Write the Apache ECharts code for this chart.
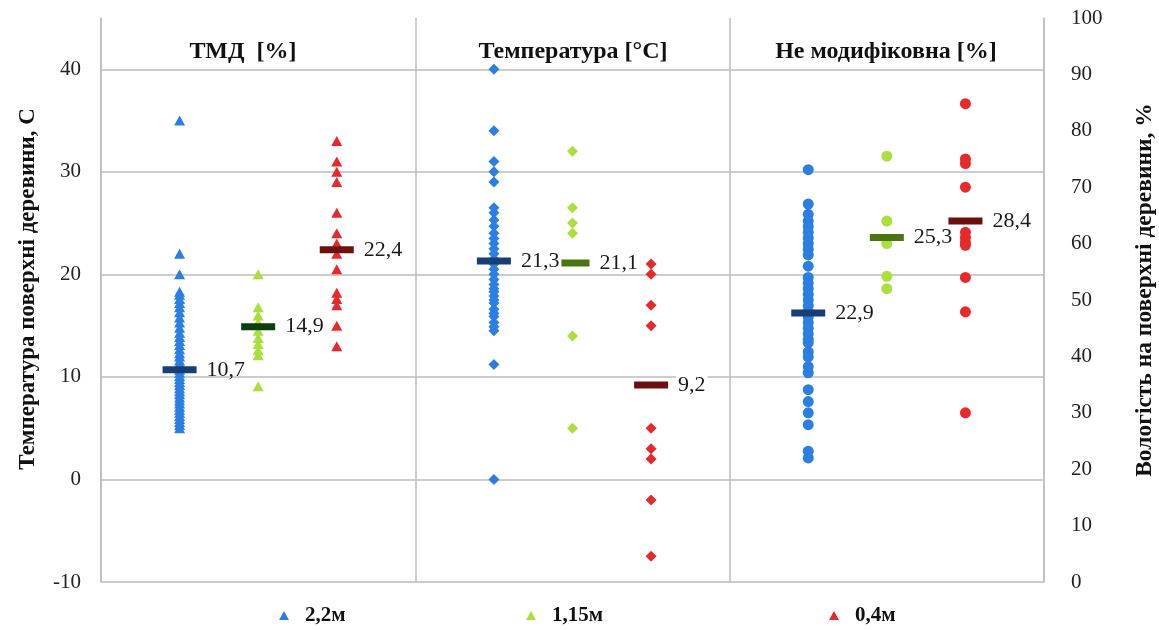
<!DOCTYPE html>
<html>
<head>
<meta charset="utf-8">
<script src="https://cdn.jsdelivr.net/npm/echarts@6/dist/echarts.min.js"></script>
<style>html,body{margin:0;padding:0;background:#fff}#c{width:1159px;height:630px}</style>
</head>
<body>
<div id="c"></div>
<script>
// ---- Data ----
const heights = ['2,2м', '1,15м', '0,4м'];
const panelTitles = ['ТМД  [%]', 'Температура [°C]', 'Не модифіковна [%]'];
const leftTicks = [-10, 0, 10, 20, 30, 40];
const rightTicks = [0, 10, 20, 30, 40, 50, 60, 70, 80, 90, 100];

// Panel 1: ТМД (left axis, temperature)
const tmdBlue = [35, 22, 20, 18.3, 18, 17.6, 17.2, 16.8, 16.3, 15.8, 15.3, 14.8, 14.3, 13.9, 13.5, 13.1, 12.7, 12.3, 12, 11.6, 11.3, 11, 10.7, 10.4, 10.1, 9.8, 9.5, 9.2, 8.9, 8.6, 8.3, 8, 7.7, 7.4, 7.1, 6.8, 6.5, 6.2, 5.9, 5.6, 5.3, 5];
const tmdGreen = [20, 16.8, 16, 15.3, 14.5, 13.8, 13.2, 12.6, 12.1, 9.1];
const tmdRed = [33, 31, 30, 29, 26, 24, 23, 22, 20.5, 18.2, 17.6, 17, 15, 13];

// Panel 2: Температура (left axis)
const tempBlue = [40, 34, 31, 30, 29, 26.5, 26, 25.3, 24.7, 24, 23.5, 23, 22.5, 22, 21.5, 21, 20.5, 20, 19.5, 19, 18.6, 18.3, 17.9, 17.5, 17.2, 16.6, 16.2, 15.9, 15.3, 14.9, 14.5, 11.2, 0];
const tempGreen = [32, 26.5, 25, 24, 14, 5];
const tempRed = [21, 20, 17, 15, 5, 3, 2, -2, -7.5];

// Panel 3: Не модифіковна (right axis, moisture %)
const moistBlue = [73.1, 67, 65.2, 64, 63, 62, 61, 60, 59, 58, 56, 54, 53, 52, 51, 50, 49, 48, 47, 46, 45, 44, 43, 42.4, 40.8, 39.9, 38.2, 37.1, 34.1, 32, 30, 27.9, 23.2, 22];
const moistGreen = [75.5, 64, 60, 54.2, 52];
const moistRed = [84.8, 75, 74.2, 70, 62, 61.1, 60.2, 59.7, 54, 47.9, 30];

// Means (position on axis) and their printed labels
const meanTmd = [10.7, 14.9, 22.4];
const meanTmdLabels = ['10,7', '14,9', '22,4'];
const meanTemp = [21.3, 21.1, 9.2];
const meanTempLabels = ['21,3', '21,1', '9,2'];
const meanMoist = [47.7, 61.1, 64.0];
const meanMoistLabels = ['22,9', '25,3', '28,4'];

// ---- Styles ----
const pointColors = ['#2B7FE3', '#A9E03C', '#E8292C'];
const meanColors = [
  ['#173F76', '#0B3F0B', '#6E0F0F'],
  ['#173F76', '#4A7612', '#6E0F0F'],
  ['#173F76', '#4A7612', '#6E0F0F']
];
const panelSymbols = ['triangle', 'diamond', 'circle'];
const panelSymbolSizes = [[11, 10], [11, 11], [11, 11]];
const SERIF = '"Liberation Serif", "DejaVu Serif", serif';
const gridColor = '#BDBDBD';

const panelData = [
  [tmdBlue, tmdGreen, tmdRed],
  [tempBlue, tempGreen, tempRed],
  [moistBlue, moistGreen, moistRed]
];
const panelMeans = [meanTmd, meanTemp, meanMoist];
const panelMeanLabels = [meanTmdLabels, meanTempLabels, meanMoistLabels];

const series = [];
for (let p = 0; p < 3; p++) {
  for (let h = 0; h < 3; h++) {
    const xv = p * 4 + h + 1;
    series.push({
      type: 'scatter',
      name: heights[h],
      yAxisIndex: p === 2 ? 1 : 0,
      symbol: panelSymbols[p],
      symbolSize: panelSymbolSizes[p],
      itemStyle: { color: pointColors[h], opacity: 1 },
      emphasis: { disabled: true },
      z: 3,
      data: panelData[p][h].map(v => [xv, v])
    });
  }
}
for (let p = 0; p < 3; p++) {
  series.push({
    type: 'scatter',
    name: 'mean' + p,
    yAxisIndex: p === 2 ? 1 : 0,
    symbol: 'rect',
    symbolSize: [34, 7],
    z: 5,
    emphasis: { disabled: true },
    itemStyle: { opacity: 1 },
    data: panelMeans[p].map((v, h) => ({
      value: [p * 4 + h + 1, v],
      itemStyle: { color: meanColors[p][h], opacity: 1 },
      label: {
        show: true,
        position: 'right',
        distance: 8,
        formatter: panelMeanLabels[p][h],
        fontFamily: SERIF,
        fontSize: 22,
        color: '#1a1a1a',
        backgroundColor: p === 1 ? '#fff' : 'transparent',
        padding: [0, 2]
      }
    }))
  });
}

const legendBase = {
  icon: 'triangle',
  itemWidth: 10,
  itemHeight: 9,
  top: 600,
  textStyle: { fontFamily: SERIF, fontWeight: 'bold', fontSize: 21, color: '#111', padding: [0, 0, 0, 11] }
};

const chart = echarts.init(document.getElementById('c'), null, { renderer: 'canvas' });
chart.setOption({
  backgroundColor: '#fff',
  animation: false,
  title: panelTitles.map((t, i) => ({
    text: t,
    left: [238, 568, 881][i],
    top: 35,
    textAlign: 'center',
    textStyle: { fontFamily: SERIF, fontWeight: 'bold', fontSize: 24, color: '#111' }
  })),
  legend: [
    Object.assign({ data: [heights[0]], left: 274 }, legendBase),
    Object.assign({ data: [heights[1]], left: 521 }, legendBase),
    Object.assign({ data: [heights[2]], left: 824 }, legendBase)
  ],
  grid: { left: 101, right: 115, top: 18, bottom: 48, containLabel: false },
  xAxis: {
    type: 'value', min: 0, max: 12, interval: 4,
    axisLine: { show: false }, axisTick: { show: false }, axisLabel: { show: false },
    splitLine: { show: true, lineStyle: { color: gridColor, width: 1.5 } }
  },
  yAxis: [
    {
      type: 'value', min: -10, max: 45, interval: 10, position: 'left',
      axisLine: { show: true, lineStyle: { color: gridColor, width: 1.5 } },
      axisTick: { show: false },
      axisLabel: {
        margin: 20, fontFamily: SERIF, fontSize: 21, color: '#222',
        formatter: v => (leftTicks.indexOf(v) >= 0 ? String(v) : '')
      },
      splitLine: { show: true, showMaxLine: false, lineStyle: { color: gridColor, width: 1.5 } }
    },
    {
      type: 'value', min: 0, max: 100, interval: 10, position: 'right',
      axisLine: { show: true, lineStyle: { color: gridColor, width: 1.5 } },
      axisTick: { show: false },
      axisLabel: {
        margin: 27, fontFamily: SERIF, fontSize: 21, color: '#222',
        formatter: v => (rightTicks.indexOf(v) >= 0 ? String(v) : '')
      },
      splitLine: { show: false }
    }
  ],
  graphic: [
    {
      type: 'text', x: 28, y: 289, rotation: Math.PI / 2,
      style: { text: 'Температура поверхні деревини, С', fontFamily: SERIF, fontWeight: 'bold', fontSize: 23, fill: '#111', textAlign: 'center', textVerticalAlign: 'middle' }
    },
    {
      type: 'text', x: 1145, y: 290, rotation: Math.PI / 2,
      style: { text: 'Вологість на поверхні деревини, %', fontFamily: SERIF, fontWeight: 'bold', fontSize: 23.5, fill: '#111', textAlign: 'center', textVerticalAlign: 'middle' }
    }
  ],
  series: series
});
</script>
</body>
</html>
